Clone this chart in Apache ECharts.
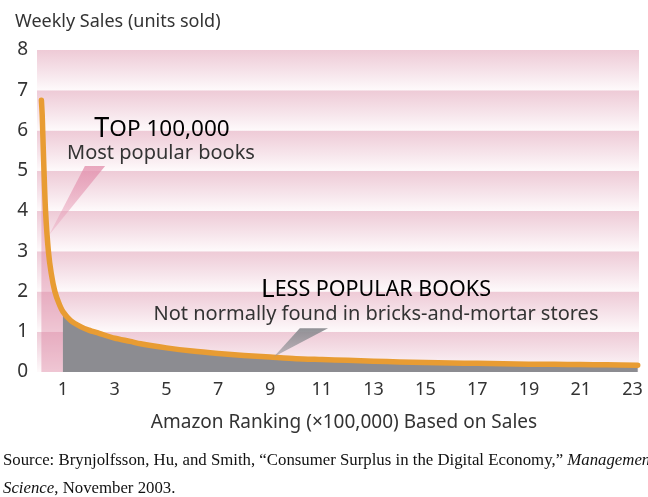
<!DOCTYPE html>
<html>
<head>
<meta charset="utf-8">
<script src="https://cdn.jsdelivr.net/npm/echarts@6/dist/echarts.min.js"></script>
<style>
html,body{margin:0;padding:0;background:#fff;}
#chart{width:648px;height:497px;}
</style>
</head>
<body>
<div id="chart"></div>
<script>
// Ranking (x100,000) and weekly sales (units sold)
var rankX = [0.17, 0.2, 0.22, 0.27, 0.33, 0.44, 0.55, 0.69, 0.85, 1.0, 1.3, 1.7, 2.0, 2.4, 3.0, 3.6, 4.0, 5.0, 6.0, 7.0, 8.0, 9.0, 10.0, 11.0, 12.0, 13.0, 14.0, 15.0, 16.0, 17.0, 18.0, 19.0, 20.0, 21.0, 22.0, 23.2];
var sales = [6.75, 6.4, 6.0, 5.0, 4.0, 3.0, 2.45, 2.0, 1.7, 1.5, 1.28, 1.12, 1.04, 0.96, 0.84, 0.76, 0.7, 0.6, 0.52, 0.46, 0.41, 0.37, 0.33, 0.31, 0.29, 0.27, 0.25, 0.235, 0.225, 0.215, 0.205, 0.195, 0.19, 0.185, 0.178, 0.17];
var yTicks = [0, 1, 2, 3, 4, 5, 6, 7, 8];
var xTickLabels = [1, 3, 5, 7, 9, 11, 13, 15, 17, 19, 21, 23];
var headSplit = 1.0; // top 100,000 boundary

var pts = rankX.map(function (x, i) { return [x, sales[i]]; });
var headPts = pts.filter(function (p) { return p[0] <= headSplit; });
var tailPts = pts.filter(function (p) { return p[0] >= headSplit; });

var FONT = 'Noto Sans';
var chart = echarts.init(document.getElementById('chart'), null, {renderer: 'canvas'});

var bandGrad = new echarts.graphic.LinearGradient(0, 0, 0, 1, [
  {offset: 0, color: '#eecad6'},
  {offset: 0.6, color: '#f7e6ec'},
  {offset: 1, color: '#fefafb'}
]);

var option = {
  backgroundColor: '#ffffff',
  animation: false,
  grid: {left: 37, right: 9, top: 50, bottom: 125},
  xAxis: {
    type: 'value', min: 0, max: 23.25, interval: 1,
    axisLine: {show: false}, axisTick: {show: false}, splitLine: {show: false},
    axisLabel: {
      fontFamily: FONT, fontSize: 18, color: '#333', margin: 9,
      formatter: function (v) { return xTickLabels.indexOf(v) >= 0 ? String(v) : ''; }
    }
  },
  yAxis: {
    type: 'value', min: yTicks[0], max: yTicks[yTicks.length - 1], interval: 1,
    axisLine: {show: false}, axisTick: {show: false}, splitLine: {show: false},
    splitArea: {show: true, areaStyle: {color: [bandGrad]}},
    axisLabel: {fontFamily: FONT, fontSize: 19, color: '#333', margin: 9}
  },
  series: [
    {
      type: 'line', data: headPts, smooth: 0.25, symbol: 'none',
      lineStyle: {width: 0}, areaStyle: {color: 'rgba(222,135,165,0.45)', opacity: 1}, z: 2
    },
    {
      type: 'line', data: tailPts, smooth: 0.25, symbol: 'none',
      lineStyle: {width: 0}, areaStyle: {color: '#8c8c91', opacity: 1}, z: 2
    },
    {
      type: 'line', data: pts, smooth: 0.25, symbol: 'none',
      lineStyle: {width: 5.5, color: '#e89c33', cap: 'round', join: 'round'}, z: 3
    }
  ]
};
chart.setOption(option);

// annotation wedges anchored in data coordinates
var pinkWedge = [[0.46, 3.4], [1.85, 5.12], [2.63, 5.12]];
var grayWedge = [[9.15, 0.38], [10.15, 1.09], [11.24, 1.09]];
function toPx(arr) { return arr.map(function (p) { return chart.convertToPixel({gridIndex: 0}, p); }); }

chart.setOption({
  graphic: [
    {type: 'text', left: 15, top: 13, style: {text: 'Weekly Sales (units sold)', font: '18px "' + FONT + '"', fill: '#333'}},
    {type: 'polygon', shape: {points: toPx(pinkWedge)}, style: {fill: new echarts.graphic.LinearGradient(0, 1, 0, 0, [{offset: 0, color: 'rgba(232,160,185,0.35)'}, {offset: 1, color: 'rgba(226,140,170,0.75)'}])}, z: 10},
    {type: 'polygon', shape: {points: toPx(grayWedge)}, style: {fill: new echarts.graphic.LinearGradient(0, 1, 0, 0, [{offset: 0, color: 'rgba(150,150,155,0.6)'}, {offset: 1, color: 'rgba(140,140,145,0.95)'}])}, z: 10},
    {type: 'text', x: 162, y: 143, z: 11, style: {
      text: '{b|T}{s|OP 100,000}', align: 'center', verticalAlign: 'bottom',
      rich: {b: {fontFamily: FONT, fontSize: 27, color: '#1e1e1e'}, s: {fontFamily: FONT, fontSize: 22.5, color: '#1e1e1e'}}
    }},
    {type: 'text', x: 161, y: 153, z: 11, style: {text: 'Most popular books', font: '20px "' + FONT + '"', fill: '#333', align: 'center', verticalAlign: 'middle'}},
    {type: 'text', x: 376, y: 303, z: 11, style: {
      text: '{b|L}{s|ESS POPULAR BOOKS}', align: 'center', verticalAlign: 'bottom',
      rich: {b: {fontFamily: FONT, fontSize: 26, color: '#1e1e1e'}, s: {fontFamily: FONT, fontSize: 21.5, color: '#1e1e1e'}}
    }},
    {type: 'text', x: 376, y: 314, z: 11, style: {text: 'Not normally found in bricks-and-mortar stores', font: '20px "' + FONT + '"', fill: '#333', align: 'center', verticalAlign: 'middle'}},
    {type: 'text', x: 344, y: 423, style: {text: 'Amazon Ranking (\u00d7100,000) Based on Sales', font: '19px "' + FONT + '"', fill: '#333', align: 'center', verticalAlign: 'middle'}},
    {type: 'text', x: 3, y: 461, style: {
      text: 'Source: Brynjolfsson, Hu, and Smith, \u201cConsumer Surplus in the Digital Economy,\u201d {i|Management}',
      font: '16.8px "Liberation Serif"', fill: '#111', verticalAlign: 'middle',
      rich: {i: {fontFamily: 'Liberation Serif', fontSize: 16.8, fontStyle: 'italic', color: '#111'}}
    }},
    {type: 'text', x: 3, y: 489, style: {
      text: '{i|Science}, November 2003.',
      font: '16.8px "Liberation Serif"', fill: '#111', verticalAlign: 'middle',
      rich: {i: {fontFamily: 'Liberation Serif', fontSize: 16.8, fontStyle: 'italic', color: '#111'}}
    }}
  ]
});
</script>
</body>
</html>
